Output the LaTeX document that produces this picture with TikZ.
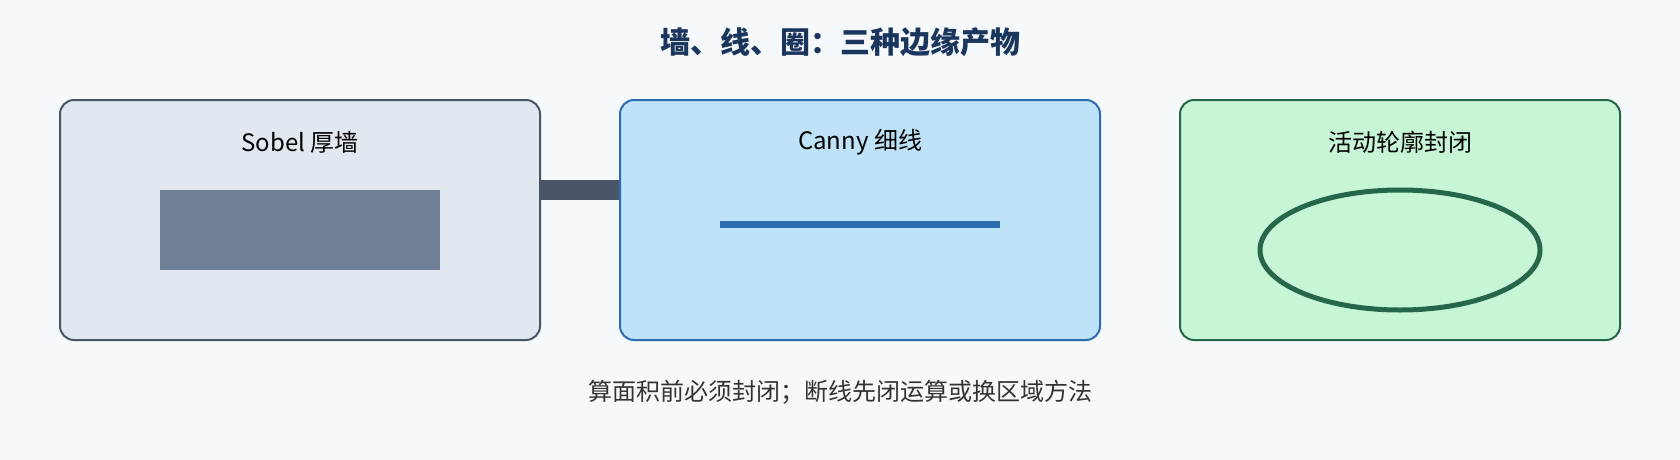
\documentclass[tikz,border=0pt]{standalone}
\usepackage{fontspec}
\setmainfont{Noto Sans CJK SC}
\usetikzlibrary{shapes.geometric}

\definecolor{bgcol}{HTML}{F5F9FC}
\definecolor{titlecol}{HTML}{1A365D}
\definecolor{notecol}{HTML}{333333}
\definecolor{wallline}{HTML}{4A5568}
\definecolor{wallfill}{HTML}{E2E8F0}
\definecolor{wallmark}{HTML}{718096}
\definecolor{cannyline}{HTML}{2B6CB0}
\definecolor{cannyfill}{HTML}{BEE3F8}
\definecolor{ringline}{HTML}{276749}
\definecolor{ringfill}{HTML}{C6F6D5}

\begin{document}
\begin{tikzpicture}[x=1pt, y=-1pt,
    panel/.style={draw, line width=2pt, rounded corners=14pt, minimum height=240pt, inner sep=0pt},
    boxtext/.style={font=\fontsize{24}{28}\selectfont, text=black}]
        \fill[bgcol] (0, 0) rectangle (1680, 460);

        \node[font=\fontsize{30}{36}\selectfont\bfseries, text=titlecol] (title) at (840, 42) {墙、线、圈：三种边缘产物};

        % panels
        \node[style=panel, draw=wallline, fill=wallfill, minimum width=480pt] (sobel) at (300, 220) {};
        \node[style=panel, draw=cannyline, fill=cannyfill, minimum width=480pt] (canny) at (860, 220) {};
        \node[style=panel, draw=ringline, fill=ringfill, minimum width=440pt] (snake) at (1400, 220) {};

        \node[style=boxtext] (sobeltext) at (300, 142) {Sobel 厚墙};
        \node[style=boxtext] (cannytext) at (860, 142) {Canny 细线};
        \node[style=boxtext] (snaketext) at (1400, 142) {活动轮廓封闭};

        % edge marks
        \node[fill=wallmark, minimum width=280pt, minimum height=80pt, inner sep=0pt] (wall) at (300, 230) {};
        \node[fill=cannyline, minimum width=280pt, minimum height=7pt, inner sep=0pt] (thin) at (860, 224) {};
        \node[ellipse, draw=ringline, line width=5pt, minimum width=280pt, minimum height=120pt, inner sep=0pt] (ring) at (1400, 250) {};

        \draw[wallline, line width=20pt] ([yshift=30pt]sobel.east) -- ([yshift=30pt]canny.west);

        \node[font=\fontsize{24}{28}\selectfont, text=notecol] (note) at (840, 392) {算面积前必须封闭；断线先闭运算或换区域方法};
    \end{tikzpicture}
\end{document}
